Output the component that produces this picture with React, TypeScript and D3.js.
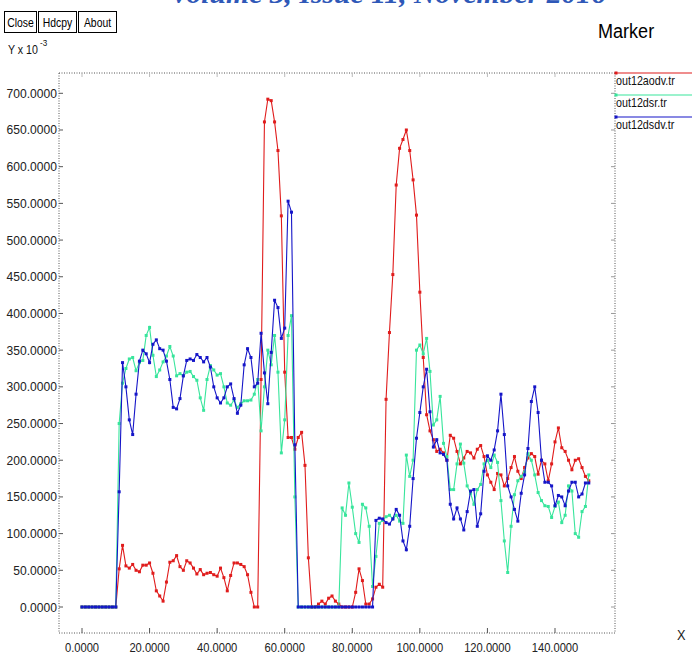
import React from 'react';
import * as d3 from 'd3';

// ---- data ----
const Y_TICKS = [0, 50, 100, 150, 200, 250, 300, 350, 400, 450, 500, 550, 600, 650, 700];
const X_TICKS = [0, 20, 40, 60, 80, 100, 120, 140];

// one sample per time unit, t = 0 .. 150
const AODV = [
  0, 0, 0, 0, 0, 0, 0, 0, 0, 0, 0,
  52, 84, 56, 53, 58, 50, 48, 57, 57, 60,
  46, 22, 15, 8, 34, 61, 63, 70, 55, 50,
  63, 60, 53, 45, 51, 44, 46, 47, 44, 42,
  53, 40, 22, 43, 60, 60, 58, 55, 44, 20,
  0, 0, 310, 661, 692, 690, 661, 622, 533, 320,
  231, 231, 215, 231, 238, 193, 67, 0, 0, 4,
  8, 4, 12, 15, 8, 4, 0, 0, 0, 0,
  20, 52, 36, 4, 4, 11, 27, 31, 27, 283,
  374, 453, 575, 625, 637, 650, 622, 582, 534, 429,
  340, 262, 240, 228, 212, 215, 210, 200, 234, 230,
  212, 195, 203, 212, 210, 203, 215, 220, 205, 180,
  170, 160, 182, 180, 165, 175, 190, 205, 185, 175,
  190, 203, 209, 205, 181, 200, 195, 172, 195, 225,
  244, 217, 212, 200, 187, 200, 202, 190, 178, 172,
];

const DSR = [
  0, 0, 0, 0, 0, 0, 0, 0, 0, 0, 0,
  250, 305, 325, 338, 340, 322, 333, 336, 370, 381,
  343, 314, 323, 334, 342, 355, 342, 315, 318, 315,
  320, 321, 314, 309, 285, 268, 310, 329, 323, 316,
  318, 300, 278, 275, 282, 272, 277, 281, 281, 282,
  290, 310, 240, 300, 350, 330, 370, 320, 210, 255,
  370, 397, 150, 0, 0, 0, 0, 0, 0, 0,
  0, 0, 0, 0, 0, 0, 135, 125, 169, 136,
  100, 88, 140, 135, 110, 28, 69, 114, 118, 123,
  125, 120, 125, 117, 114, 207, 178, 200, 350, 357,
  345, 366, 321, 248, 255, 287, 223, 205, 160, 160,
  195, 222, 196, 165, 155, 140, 160, 167, 195, 200,
  190, 207, 197, 145, 90, 47, 110, 153, 172, 178,
  184, 209, 200, 180, 156, 145, 138, 137, 122, 137,
  143, 115, 125, 165, 158, 100, 95, 130, 137, 180,
];

const DSDV = [
  0, 0, 0, 0, 0, 0, 0, 0, 0, 0, 0,
  157, 333, 300, 255, 235, 290, 335, 350, 345, 333,
  358, 364, 352, 350, 335, 310, 272, 270, 284, 315,
  336, 338, 336, 344, 340, 334, 340, 327, 300, 285,
  278, 285, 300, 304, 284, 264, 275, 330, 352, 340,
  300, 305, 373, 319, 277, 347, 418, 408, 366, 380,
  553, 538, 221, 0, 0, 0, 0, 0, 0, 0,
  0, 0, 0, 0, 0, 0, 0, 0, 0, 0,
  0, 0, 0, 0, 0, 0, 118, 121, 120, 115,
  113, 120, 133, 125, 90, 78, 110, 175, 230, 265,
  300, 324, 266, 218, 228, 210, 208, 200, 140, 120,
  135, 120, 105, 130, 158, 160, 110, 127, 185, 206,
  200, 214, 240, 290, 235, 165, 150, 133, 117, 155,
  180, 216, 280, 300, 265, 200, 170, 170, 165, 138,
  152, 150, 138, 158, 170, 170, 150, 154, 169, 169,
];

const SERIES_NAMES = ['out12aodv.tr', 'out12dsr.tr', 'out12dsdv.tr'];
const SERIES_COLORS = ['#e01c1c', '#38e59c', '#1515c8'];
const SERIES_DATA = [AODV, DSR, DSDV];
const BUTTONS = ['Close', 'Hdcpy', 'About'];
const HEADER = 'Volume 3, Issue 11, November 2016';

const FONT = 'Liberation Sans, Arial, Helvetica, sans-serif';

function CText(props: {
  x: number; y: number; sx?: number; size?: number; anchor?: string; fill?: string; children: any;
}) {
  const { x, y, sx = 0.85, size = 12, anchor = 'start', fill = '#111', children } = props;
  return (
    <text
      transform={`translate(${x},${y}) scale(${sx},1)`}
      textAnchor={anchor as any}
      fontSize={size}
      fontFamily={FONT}
      fill={fill}
    >
      {children}
    </text>
  );
}

export default function App() {
  const W = 692;
  const H = 657;
  const frame = { left: 59, right: 615, top: 73, bottom: 633 };

  const x = d3.scaleLinear().domain([0, 140]).range([82, 555]);
  const y = d3.scaleLinear().domain([0, 700]).range([607, 93.3]);
  const line = d3
    .line<number>()
    .x((_, i) => x(i))
    .y((d) => y(d));

  const buttonBoxes = [
    [4, 36],
    [38, 76],
    [78, 116],
  ];

  const dotted = { stroke: '#555', strokeWidth: 1, strokeDasharray: '1,1.5' };

  return (
    <svg
      width={W}
      height={H}
      viewBox={`0 0 ${W} ${H}`}
      style={{ position: 'absolute', left: 0, top: 0, display: 'block', background: '#fff' }}
    >
      <rect x={0} y={0} width={W} height={H} fill="#fff" />

      {/* page header, cut off at the top edge as in the source */}
      <text
        x={388}
        y={3}
        textAnchor="middle"
        fontSize={27}
        fontStyle="italic"
        fontWeight="bold"
        fontFamily="Liberation Serif, DejaVu Serif, serif"
        fill="#2f58b8"
        textLength={436}
        lengthAdjust="spacingAndGlyphs"
      >
        {HEADER}
      </text>

      {/* buttons */}
      {BUTTONS.map((b, i) => {
        const [x0, x1] = buttonBoxes[i];
        return (
          <g key={b}>
            <rect x={x0 + 0.5} y={11.5} width={x1 - x0} height={21} fill="#fff" stroke="#000" strokeWidth={1} />
            <CText x={(x0 + x1) / 2 + 0.5} y={27} anchor="middle" size={13} sx={0.8} fill="#000">
              {b}
            </CText>
          </g>
        );
      })}

      <CText x={598} y={38} size={21} sx={0.86} fill="#000">Marker</CText>

      {/* Y unit */}
      <CText x={8} y={54} size={12.5} sx={0.85} fill="#111">Y x 10</CText>
      <CText x={40} y={46} size={9} sx={0.9} fill="#111">-3</CText>

      {/* frame */}
      <line x1={frame.left} x2={frame.right} y1={frame.top} y2={frame.top} style={dotted} />
      <line x1={frame.left} x2={frame.right} y1={frame.bottom} y2={frame.bottom} style={dotted} />
      <line x1={frame.left} x2={frame.left} y1={frame.top} y2={frame.bottom} style={dotted} />
      <line x1={frame.right} x2={frame.right} y1={frame.top} y2={frame.bottom} style={dotted} />

      {/* y ticks + labels */}
      {Y_TICKS.map((v) => (
        <g key={'y' + v}>
          <line x1={frame.left} x2={frame.left + 4} y1={y(v)} y2={y(v)} stroke="#555" strokeWidth={1} />
          <line x1={frame.right - 4} x2={frame.right} y1={y(v)} y2={y(v)} stroke="#999" strokeWidth={1} />
          <CText x={57} y={y(v) + 4.5} anchor="end" size={13} sx={0.93} fill="#222">
            {v.toFixed(4)}
          </CText>
        </g>
      ))}

      {/* x ticks + labels */}
      {X_TICKS.map((v) => (
        <g key={'x' + v}>
          <line x1={x(v)} x2={x(v)} y1={frame.bottom - 5} y2={frame.bottom} stroke="#555" strokeWidth={1} />
          <line x1={x(v)} x2={x(v)} y1={frame.top} y2={frame.top + 4} stroke="#bbb" strokeWidth={1} />
          <CText x={x(v)} y={652} anchor="middle" size={13} sx={0.86} fill="#222">
            {v.toFixed(4)}
          </CText>
        </g>
      ))}

      <CText x={677} y={640} size={15} sx={0.85} fill="#222">X</CText>

      {/* series */}
      {SERIES_DATA.map((data, si) => (
        <g key={SERIES_NAMES[si]}>
          <path d={line(data) || ''} fill="none" stroke={SERIES_COLORS[si]} strokeWidth={1.1} />
          {data.map((v, i) => (
            <rect key={i} x={x(i) - 1.5} y={y(v) - 1.5} width={3} height={3} fill={SERIES_COLORS[si]} />
          ))}
        </g>
      ))}

      {/* legend */}
      {SERIES_NAMES.map((n, i) => {
        const ly = 73 + i * 22;
        return (
          <g key={'lg' + n}>
            <line x1={615} x2={692} y1={ly} y2={ly} stroke={SERIES_COLORS[i]} strokeWidth={1.2} />
            <rect x={614.5} y={ly - 1.5} width={3} height={3} fill={SERIES_COLORS[i]} />
            <CText x={616} y={ly + 12} size={12.5} sx={0.86} fill="#111">
              {n}
            </CText>
          </g>
        );
      })}
    </svg>
  );
}
